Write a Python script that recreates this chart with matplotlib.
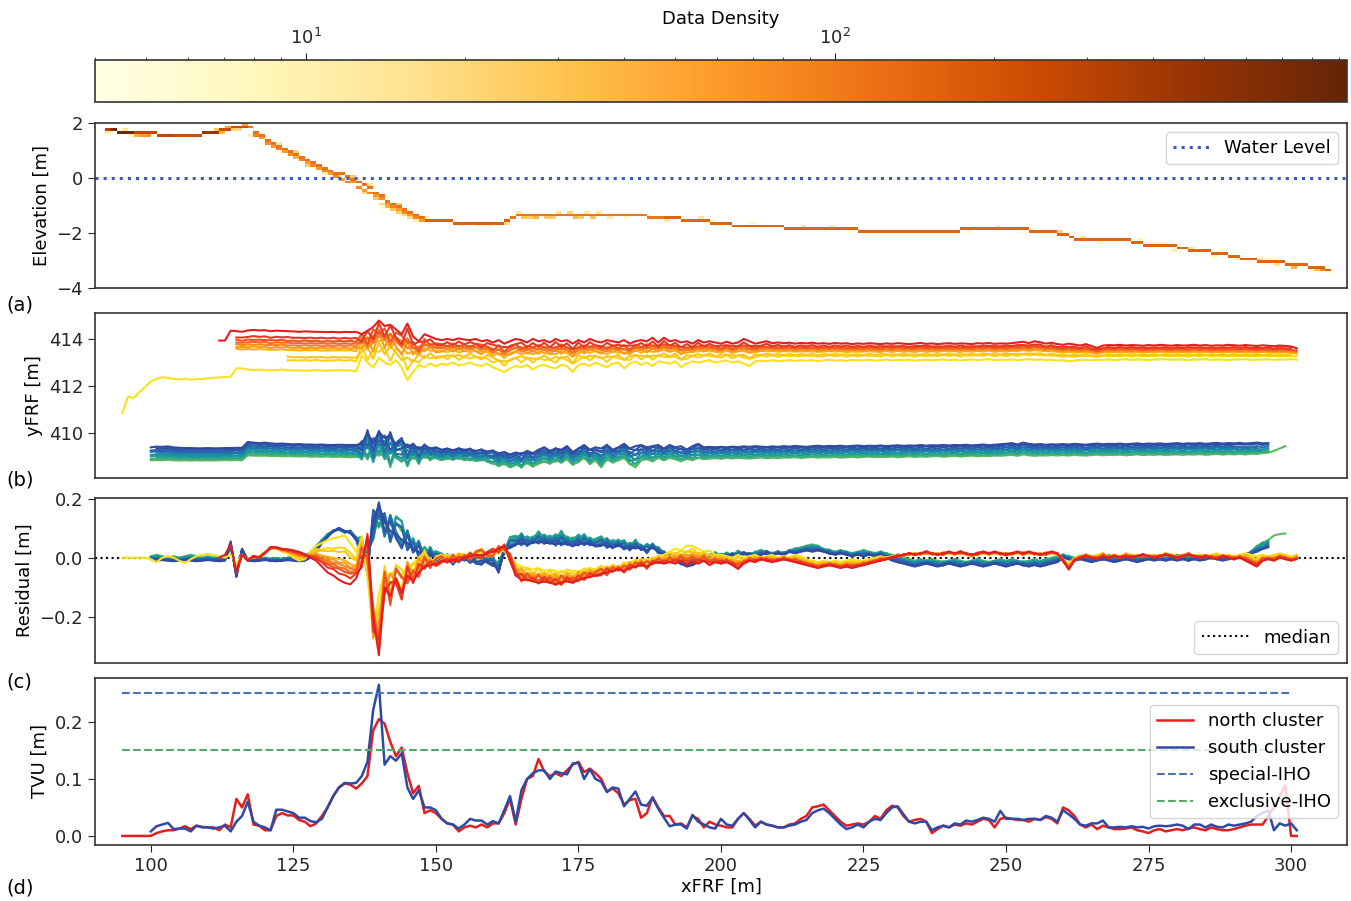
import numpy as np
import matplotlib
matplotlib.use("Agg")
import matplotlib.pyplot as plt
from matplotlib.colors import LogNorm, LinearSegmentedColormap

# ---------------- data ----------------
# (a) elevation profile: main cell elevation per 1-m column, starting at x=92
elev_x0 = 92
elev_z = [
    1.77, 1.70, 1.66, 1.66, 1.66, 1.65, 1.62, 1.60, 1.60, 1.58,
    1.55, 1.53, 1.53, 1.52, 1.52, 1.53, 1.55, 1.60, 1.65, 1.68,
    1.75, 1.78, 1.85, 1.87, 1.88, 1.80, 1.65, 1.50, 1.38, 1.27,
    1.15, 1.05, 0.95, 0.85, 0.75, 0.65, 0.55, 0.45, 0.35, 0.27,
    0.18, 0.10, 0.00, -0.10, -0.20, -0.30, -0.40, -0.55, -0.70, -0.85,
    -1.00, -1.10, -1.20, -1.30, -1.40, -1.48, -1.52, -1.55, -1.57, -1.60,
    -1.60, -1.62, -1.65, -1.65, -1.65, -1.65, -1.65, -1.65, -1.65, -1.65,
    -1.60, -1.50, -1.40, -1.35, -1.32, -1.32, -1.32, -1.32, -1.32, -1.32,
    -1.32, -1.32, -1.32, -1.32, -1.32, -1.32, -1.32, -1.35, -1.35, -1.35,
    -1.35, -1.35, -1.35, -1.38, -1.40, -1.42, -1.42, -1.43, -1.45, -1.47,
    -1.50, -1.52, -1.53, -1.55, -1.57, -1.60, -1.63, -1.65, -1.68, -1.70,
    -1.71, -1.72, -1.73, -1.73, -1.74, -1.75, -1.76, -1.78, -1.80, -1.84,
    -1.84, -1.84, -1.84, -1.84, -1.84, -1.84, -1.84, -1.84, -1.84, -1.84,
    -1.84, -1.88, -1.93, -1.93, -1.93, -1.93, -1.93, -1.93, -1.93, -1.93,
    -1.93, -1.93, -1.93, -1.93, -1.93, -1.93, -1.93, -1.93, -1.93, -1.93,
    -1.88, -1.85, -1.85, -1.85, -1.85, -1.85, -1.85, -1.85, -1.85, -1.88,
    -1.88, -1.88, -1.93, -1.93, -1.93, -1.93, -1.98, -2.04, -2.10, -2.15,
    -2.22, -2.22, -2.22, -2.22, -2.22, -2.22, -2.22, -2.22, -2.22, -2.26,
    -2.32, -2.37, -2.41, -2.44, -2.50, -2.50, -2.50, -2.50, -2.55, -2.58,
    -2.62, -2.65, -2.68, -2.70, -2.72, -2.75, -2.80, -2.85, -2.88, -2.92,
    -2.96, -2.99, -3.02, -3.04, -3.06, -3.08, -3.10, -3.12, -3.15, -3.17,
    -3.19, -3.22, -3.25, -3.28, -3.35,
]
# main-cell density by stretch of columns: (first x, last x, count)
elev_main_counts = [
    (92, 92, 300), (93, 96, 800), (97, 103, 280), (104, 108, 220),
    (109, 111, 450), (112, 116, 230), (117, 147, 120), (148, 162, 160),
    (163, 189, 110), (190, 299, 150), (300, 306, 140),
]
# lighter cells around the main cells: (x, z, count)
elev_extra = [
    (92, 1.65, 12), (93, 1.75, 20), (95, 1.75, 15), (96, 1.55, 8), (97, 1.55, 40),
    (98, 1.55, 60), (99, 1.55, 60), (100, 1.65, 10), (111, 1.75, 30), (112, 1.65, 40),
    (113, 1.85, 50), (114, 1.75, 20), (115, 1.75, 20), (116, 1.95, 60), (117, 1.55, 10),
    (118, 1.55, 90), (119, 1.42, 60), (120, 1.28, 80), (121, 1.17, 60), (122, 1.05, 90),
    (123, 0.95, 60), (124, 0.85, 80), (125, 0.75, 40), (126, 0.65, 90), (127, 0.55, 60),
    (128, 0.45, 80), (129, 0.35, 60), (130, 0.25, 90), (131, 0.17, 60), (132, 0.08, 80),
    (133, -0.02, 60), (134, -0.12, 90), (135, -0.20, 60), (136, -0.32, 80), (137, -0.42, 60),
    (138, -0.52, 90), (139, -0.65, 60), (140, -0.78, 80), (141, -0.95, 60), (142, -1.08, 90),
    (143, -1.18, 60), (144, -1.28, 80), (145, -1.38, 60), (146, -1.48, 90), (147, -1.55, 60),
    (122, 1.25, 12), (125, 0.95, 20), (127, 0.45, 25), (130, 0.15, 10),
    (133, 0.15, 20), (135, 0.05, 25), (136, -0.05, 6), (137, -0.55, 20), (138, -0.25, 15),
    (139, -0.75, 30), (140, -0.95, 20), (140, -1.05, 6), (140, -1.25, 5), (141, -1.05, 40),
    (142, -1.15, 30), (143, -1.25, 25), (143, -0.95, 25), (144, -1.35, 20), (145, -1.45, 20),
    (146, -1.55, 10), (148, -1.45, 8),
    (157, -1.75, 6), (159, -1.75, 8), (162, -1.65, 20), (163, -1.45, 30), (164, -1.25, 15),
    (165, -1.45, 30), (166, -1.45, 25), (167, -1.45, 40), (169, -1.45, 30), (170, -1.45, 25),
    (171, -1.25, 15), (173, -1.25, 20), (174, -1.45, 35), (175, -1.45, 25), (176, -1.25, 12),
    (177, -1.45, 30), (178, -1.25, 15), (180, -1.45, 12), (183, -1.45, 8), (186, -1.35, 10),
    (190, -1.55, 12), (196, -1.45, 15), (198, -1.55, 8), (205, -1.65, 8), (214, -1.75, 15),
    (219, -1.75, 10), (235, -1.95, 6), (243, -1.95, 8), (248, -1.75, 10), (252, -1.95, 6),
    (259, -1.95, 20), (263, -2.15, 15), (266, -2.35, 8), (273, -2.25, 10), (279, -2.65, 10),
    (282, -2.55, 15), (286, -2.85, 8), (290, -2.95, 10), (294, -2.95, 15), (297, -3.15, 15),
    (300, -3.25, 40), (302, -3.15, 80), (304, -3.35, 30), (305, -3.35, 80), (306, -3.45, 5),
]
water_level = 0.0
density_range = (4, 930)

# (b) track positions yFRF, 1-m steps
north_low_x0 = 95   # yellow edge of the north cluster
north_low = [
    410.86, 411.55, 411.50, 411.75, 411.95, 412.20, 412.30, 412.38, 412.35, 412.30,
    412.28, 412.30, 412.27, 412.29, 412.30, 412.33, 412.35, 412.37, 412.38, 412.40,
    412.75, 412.75, 412.70, 412.68, 412.70, 412.68, 412.66, 412.68, 412.70, 412.68,
    412.66, 412.67, 412.65, 412.66, 412.68, 412.66, 412.65, 412.67, 412.68, 412.66,
    412.67, 412.62, 413.30, 413.00, 412.78, 413.20, 413.00, 412.90, 413.10, 412.80,
    412.25, 412.60, 412.90, 412.80, 412.95, 412.85, 412.95, 412.90, 413.00, 412.88,
    412.92, 413.00, 412.90, 412.85, 412.95, 412.80, 412.70, 412.60, 412.75, 412.85,
    412.80, 412.90, 412.70, 412.85, 412.90, 412.80, 412.75, 412.90, 412.85, 412.60,
    412.90, 412.95, 412.85, 413.00, 412.90, 412.80, 412.95, 413.00, 412.75, 412.95,
    413.05, 412.90, 413.00, 412.85, 413.05, 413.00, 412.95, 413.05, 412.80, 412.95,
    413.05, 413.00, 413.05, 413.10, 413.00, 413.05, 413.08, 413.00, 413.05, 412.95,
    412.85, 413.05, 413.08, 413.05, 413.10, 413.06, 413.08, 413.10, 413.07, 413.10,
    413.08, 413.10, 413.06, 413.09, 413.12, 413.08, 413.10, 413.07, 413.11, 413.09,
    413.10, 413.12, 413.08, 413.10, 413.13, 413.09, 413.11, 413.10, 413.12, 413.08,
    413.10, 413.12, 413.09, 413.11, 413.13, 413.10, 413.12, 413.09, 413.11, 413.13,
    413.10, 413.12, 413.14, 413.10, 413.12, 413.11, 413.13, 413.10, 413.12, 413.14,
    413.11, 413.13, 413.10, 413.12, 413.08, 413.10, 413.05, 413.08, 413.11, 413.12,
    413.10, 413.12, 413.11, 413.13, 413.10, 413.12, 413.14, 413.11, 413.13, 413.12,
    413.10, 413.13, 413.12, 413.14, 413.11, 413.13, 413.12, 413.10, 413.13, 413.12,
    413.14, 413.11, 413.13, 413.12, 413.10, 413.13, 413.12, 413.14, 413.11, 413.13,
    413.12, 413.14, 413.11, 413.13, 413.12, 413.14, 413.12,
]
north_high_x0 = 112  # red edge of the north cluster
north_high = [
    413.93, 413.93, 414.35, 414.33, 414.30, 414.36, 414.38, 414.36, 414.37, 414.33,
    414.35, 414.34, 414.33, 414.32, 414.30, 414.32, 414.31, 414.30, 414.30, 414.29,
    414.30, 414.28, 414.30, 414.29, 414.30, 414.20, 414.35, 414.50, 414.78, 414.55,
    414.60, 414.40, 414.20, 414.65, 414.10, 413.90, 414.20, 414.10, 414.00, 413.95,
    414.00, 413.95, 414.02, 413.97, 413.95, 414.00, 413.90, 413.95, 413.85, 413.95,
    413.80, 413.90, 414.00, 413.95, 413.85, 414.00, 413.90, 413.95, 413.85, 414.00,
    413.90, 413.95, 413.80, 413.95, 413.85, 414.00, 413.90, 413.85, 413.95, 413.90,
    413.85, 413.95, 413.80, 413.90, 413.95, 413.90, 414.05, 413.85, 414.05, 413.90,
    413.95, 413.85, 413.90, 413.80, 413.95, 413.85, 413.90, 413.85, 413.80, 413.88,
    413.80, 413.85, 414.00, 413.90, 413.80, 413.85, 413.90, 413.82, 413.85, 413.82,
    413.84, 413.80, 413.83, 413.81, 413.84, 413.80, 413.82, 413.79, 413.83, 413.80,
    413.82, 413.78, 413.81, 413.79, 413.82, 413.80, 413.78, 413.81, 413.79, 413.82,
    413.80, 413.78, 413.80, 413.83, 413.79, 413.81, 413.78, 413.80, 413.82, 413.79,
    413.81, 413.80, 413.78, 413.82, 413.80, 413.83, 413.79, 413.81, 413.80, 413.82,
    413.85, 413.88, 413.82, 413.90, 413.86, 413.80, 413.84, 413.78, 413.75, 413.80,
    413.76, 413.72, 413.78, 413.70, 413.62, 413.72, 413.74, 413.73, 413.75, 413.72,
    413.74, 413.73, 413.71, 413.74, 413.72, 413.75, 413.73, 413.71, 413.74, 413.72,
    413.73, 413.75, 413.72, 413.74, 413.71, 413.73, 413.72, 413.75, 413.73, 413.71,
    413.74, 413.72, 413.70, 413.73, 413.71, 413.69, 413.72, 413.70, 413.68, 413.60,
]
south_low_x0 = 100  # green edge of the south cluster
south_low = [
    408.85, 408.86, 408.85, 408.87, 408.85, 408.84, 408.85, 408.84, 408.85, 408.84,
    408.85, 408.84, 408.85, 408.86, 408.85, 408.86, 408.85, 409.06, 409.05, 409.04,
    409.05, 409.03, 409.04, 409.02, 409.03, 409.02, 409.01, 409.02, 409.00, 409.01,
    409.00, 409.01, 408.99, 409.00, 408.99, 408.98, 408.99, 409.00, 409.10, 408.95,
    409.15, 409.00, 408.80, 409.05, 408.90, 408.78, 408.95, 408.85, 409.00, 408.90,
    408.95, 408.85, 408.92, 408.88, 408.95, 408.85, 408.90, 408.82, 408.88, 408.80,
    408.75, 408.60, 408.70, 408.55, 408.65, 408.60, 408.72, 408.58, 408.70, 408.80,
    408.70, 408.85, 408.75, 408.90, 408.65, 408.80, 408.95, 408.70, 408.85, 408.55,
    408.90, 408.75, 408.85, 408.95, 408.70, 408.55, 408.85, 408.90, 408.80, 408.95,
    408.85, 408.95, 408.90, 408.80, 408.92, 408.85, 408.95, 408.90, 408.92, 408.94,
    408.92, 408.95, 408.93, 408.96, 408.94, 408.92, 408.95, 408.97, 408.94, 408.96,
    408.95, 408.97, 408.96, 408.98, 408.95, 408.97, 408.99, 408.96, 408.98, 408.97,
    408.99, 408.96, 408.98, 409.00, 408.97, 408.99, 409.01, 408.98, 409.00, 408.99,
    409.01, 408.98, 409.00, 409.02, 408.99, 409.01, 409.00, 409.02, 409.03, 409.00,
    409.02, 409.04, 409.01, 409.03, 409.05, 409.02, 409.04, 409.03, 409.05, 409.04,
    409.06, 409.08, 409.04, 409.10, 409.06, 409.04, 409.06, 409.05, 409.07, 409.05,
    409.07, 409.05, 409.08, 409.06, 409.05, 409.07, 409.09, 409.06, 409.08, 409.07,
    409.09, 409.06, 409.08, 409.10, 409.07, 409.09, 409.08, 409.10, 409.07, 409.09,
    409.10, 409.08, 409.10, 409.09, 409.11, 409.08, 409.10, 409.12, 409.09, 409.11,
    409.10, 409.12, 409.10, 409.13, 409.12, 409.15, 409.18, 409.25, 409.35, 409.45,
]
south_high_x0 = 100  # blue edge of the south cluster
south_high = [
    409.40, 409.43, 409.42, 409.44, 409.40, 409.38, 409.37, 409.37, 409.36, 409.36,
    409.37, 409.36, 409.36, 409.37, 409.37, 409.38, 409.38, 409.63, 409.60, 409.58,
    409.60, 409.57, 409.55, 409.56, 409.54, 409.53, 409.54, 409.52, 409.52, 409.51,
    409.52, 409.50, 409.50, 409.51, 409.50, 409.50, 409.50, 409.55, 410.00, 409.60,
    410.05, 409.80, 409.90, 409.50, 409.70, 409.40, 409.55, 409.30, 409.50, 409.35,
    409.40, 409.30, 409.35, 409.28, 409.35, 409.30, 409.32, 409.25, 409.30, 409.22,
    409.25, 409.15, 409.20, 409.10, 409.18, 409.12, 409.25, 409.15, 409.30, 409.40,
    409.25, 409.35, 409.30, 409.45, 409.20, 409.35, 409.50, 409.30, 409.40, 409.35,
    409.50, 409.30, 409.40, 409.55, 409.35, 409.45, 409.50, 409.40, 409.45, 409.50,
    409.35, 409.50, 409.40, 409.45, 409.30, 409.45, 409.55, 409.40, 409.42, 409.40,
    409.42, 409.40, 409.43, 409.41, 409.44, 409.42, 409.45, 409.43, 409.41, 409.44,
    409.42, 409.45, 409.43, 409.46, 409.44, 409.42, 409.45, 409.47, 409.44, 409.46,
    409.45, 409.47, 409.44, 409.46, 409.48, 409.45, 409.47, 409.46, 409.48, 409.45,
    409.47, 409.49, 409.46, 409.48, 409.47, 409.50, 409.47, 409.49, 409.48, 409.50,
    409.48, 409.50, 409.49, 409.51, 409.48, 409.50, 409.52, 409.49, 409.51, 409.53,
    409.55, 409.58, 409.52, 409.60, 409.55, 409.52, 409.54, 409.51, 409.53, 409.52,
    409.54, 409.52, 409.55, 409.53, 409.51, 409.54, 409.56, 409.53, 409.55, 409.54,
    409.56, 409.53, 409.55, 409.57, 409.54, 409.56, 409.55, 409.57, 409.54, 409.56,
    409.58, 409.55, 409.57, 409.56, 409.58, 409.55, 409.57, 409.59, 409.56, 409.58,
    409.57, 409.59, 409.56, 409.58, 409.60, 409.57, 409.58,
]
# per-track jitter along xFRF (starts at x=95)
track_jitter_x0 = 95
track_jitter = [
    0, 0, 0, 0, 0, 0, 0, 0, 0, 0,
    0, 0, 0, 0, 0, 0, 0, 0, 0, 0,
    0.02, -0.01, 0.015, -0.02, 0.01, -0.015, 0.02, -0.01, 0.015, -0.02,
    0.01, -0.015, 0.02, -0.01, 0.015, -0.02, 0.01, -0.015, 0.02, -0.01,
    0.02, -0.02, 0.25, -0.30, 0.35, -0.20, 0.30, -0.35, 0.20, 0.30,
    -0.25, 0.15, -0.20, 0.15, -0.10, 0.10, 0.08, -0.06, 0.10, -0.08,
    0.05, -0.10, 0.07, 0.12, -0.05, -0.10, 0.09, -0.07, 0.10, 0.06,
    -0.12, 0.08, -0.05, 0.10, -0.08, 0.06, -0.10, 0.12, -0.06, 0.05,
    -0.09, 0.10, -0.07, 0.05, 0.08, -0.10, 0.06, -0.05, 0.09, -0.08,
    0.07, -0.06, 0.10, -0.05, 0.06, -0.04, 0.05, -0.04, 0.06, -0.05,
    0.04, -0.05, 0.06, -0.03, 0.04, -0.05, 0.03, -0.04, 0.05, -0.03,
    0.04, -0.03, 0.03, -0.04, 0.02, -0.03, 0.03, -0.02, 0.03, -0.02,
    0.02, -0.03, 0.02, -0.02, 0.03, -0.02, 0.02, -0.03, 0.02, -0.02,
    0.03, -0.02, 0.02, -0.03, 0.02, -0.02, 0.03, -0.02, 0.02, -0.02,
    0.02, -0.03, 0.02, -0.02, 0.03, -0.02, 0.02, -0.03, 0.02, -0.02,
    0.03, -0.02, 0.02, -0.02, 0.02, -0.03, 0.02, -0.02, 0.03, -0.02,
    0.02, -0.02, 0.03, -0.02, 0.02, -0.03, 0.02, -0.02, 0.02, -0.03,
    0.02, -0.02, 0.03, -0.02, 0.02, -0.02, 0.02, -0.03, 0.02, -0.02,
    0.02, -0.02, 0.03, -0.02, 0.02, -0.02, 0.02, -0.03, 0.02, -0.02,
    0.03, -0.02, 0.02, -0.02, 0.02, -0.03, 0.02, -0.02, 0.02, -0.02,
    0.03, -0.02, 0.02, -0.02, 0.02, -0.02, 0.02,
]
# individual tracks: position between cluster edges, first/last x, jitter weight
north_frac = [0.0, 0.26, 0.34, 0.52, 0.58, 0.64, 0.70, 0.76, 0.84, 1.0]
north_start = [95, 124, 124, 115, 115, 115, 115, 115, 115, 112]
north_end = [301, 301, 300, 301, 300, 301, 300, 301, 300, 301]
north_jit = [0.0, 0.8, -0.6, 0.5, -0.9, 0.7, -0.4, 0.9, -0.7, 0.0]
south_frac = [0.0, 0.1, 0.2, 0.3, 0.42, 0.55, 0.65, 0.75, 0.88, 1.0]
south_start = [100, 100, 101, 100, 100, 101, 100, 100, 101, 100]
south_end = [299, 296, 296, 295, 296, 294, 296, 290, 296, 296]
south_jit = [0.0, 1.0, -0.9, 1.2, -1.0, 0.8, -1.1, 1.0, -0.8, 0.0]

# (c) residuals from median
north_res_yellow_x0 = 95
north_res_yellow = [
    0.000, 0.000, 0.000, 0.000, 0.000, -0.005, -0.015, 0.000, 0.005, 0.000,
    -0.010, -0.018, -0.005, 0.005, 0.010, 0.012, 0.010, 0.005, 0.000, 0.010,
    -0.020, 0.010, -0.005, 0.000, 0.005, 0.020, 0.030, 0.030, 0.020, 0.015,
    0.000, -0.010, -0.005, 0.020, 0.040, 0.050, 0.060, 0.065, 0.070, 0.075,
    0.050, 0.020, 0.065, -0.060, -0.260, -0.120, -0.050, -0.060, -0.040, -0.060,
    -0.030, -0.020, 0.000, 0.020, -0.010, -0.005, 0.005, 0.010, 0.000, 0.015,
    0.010, 0.005, 0.015, 0.020, 0.010, 0.015, 0.020, 0.025, 0.000, -0.020,
    -0.030, -0.035, -0.040, -0.035, -0.045, -0.040, -0.045, -0.050, -0.040, -0.045,
    -0.045, -0.040, -0.035, -0.040, -0.030, -0.035, -0.025, -0.030, -0.020, -0.015,
    -0.010, -0.005, -0.010, 0.000, 0.005, 0.010, 0.020, 0.030, 0.025, 0.040,
    0.040, 0.030, 0.020, 0.025, 0.010, 0.010, 0.005, 0.000, 0.010, 0.000,
    0.005, 0.010, 0.000, 0.005, 0.010, 0.000, 0.005, 0.000, 0.010, 0.005,
    -0.005, -0.010, -0.015, -0.010, -0.015, -0.010, -0.015, -0.010, -0.005, -0.010,
    -0.010, -0.005, 0.000, 0.005, 0.000, 0.005, 0.010, 0.005, 0.010, 0.015,
    0.010, 0.015, 0.010, 0.015, 0.010, 0.015, 0.010, 0.015, 0.010, 0.005,
    0.010, 0.015, 0.010, 0.015, 0.010, 0.015, 0.010, 0.015, 0.010, 0.015,
    0.010, 0.015, 0.010, 0.015, 0.010, -0.005, -0.020, 0.000, 0.005, 0.010,
    0.005, 0.010, 0.015, 0.005, 0.010, 0.005, 0.015, 0.010, 0.005, 0.010,
    0.005, 0.010, 0.005, 0.015, 0.010, 0.005, 0.010, 0.015, 0.005, 0.010,
    0.005, 0.010, 0.015, 0.005, 0.010, 0.005, 0.010, 0.015, 0.010, 0.005,
    0.010, 0.005, 0.010, 0.015, 0.010, 0.005, 0.010,
]
north_res_red_x0 = 112
north_res_red = [
    0.000, 0.010, 0.045, -0.050, 0.010, -0.010, 0.005, 0.000, 0.015, 0.035,
    0.035, 0.030, 0.028, 0.025, 0.020, 0.012, 0.000, -0.010, -0.030, -0.050,
    -0.060, -0.075, -0.085, -0.090, -0.070, -0.020, 0.070, -0.200, -0.330, -0.100,
    -0.130, -0.070, -0.120, -0.060, -0.080, -0.050, -0.030, -0.025, -0.020, -0.010,
    -0.015, -0.005, -0.010, 0.000, 0.005, 0.010, 0.008, 0.015, 0.020, 0.030,
    0.040, 0.000, -0.060, -0.075, -0.075, -0.080, -0.085, -0.080, -0.085, -0.090,
    -0.085, -0.080, -0.085, -0.075, -0.070, -0.065, -0.060, -0.055, -0.050, -0.045,
    -0.040, -0.045, -0.035, -0.030, -0.025, -0.030, -0.020, -0.015, -0.020, -0.015,
    -0.020, -0.010, -0.025, -0.015, -0.020, -0.010, -0.025, -0.015, -0.020, -0.015,
    -0.025, -0.038, -0.020, -0.010, -0.015, -0.005, -0.010, -0.015, -0.010, -0.005,
    -0.010, -0.015, -0.020, -0.025, -0.030, -0.035, -0.030, -0.025, -0.030, -0.035,
    -0.030, -0.035, -0.030, -0.025, -0.020, -0.015, -0.010, -0.005, 0.000, 0.005,
    0.010, 0.015, 0.010, 0.015, 0.020, 0.015, 0.010, 0.015, 0.020, 0.015,
    0.020, 0.015, 0.010, 0.015, 0.020, 0.015, 0.020, 0.015, 0.010, 0.015,
    0.020, 0.015, 0.020, 0.015, 0.010, 0.015, 0.020, 0.015, -0.010, -0.040,
    -0.010, 0.000, 0.005, 0.000, -0.005, 0.005, 0.000, 0.005, 0.000, 0.005,
    0.000, 0.005, 0.010, 0.005, 0.000, 0.005, 0.010, 0.005, 0.000, 0.005,
    0.010, 0.005, 0.000, 0.005, 0.000, -0.005, 0.005, 0.000, -0.005, 0.000,
    -0.010, -0.020, -0.030, -0.010, -0.005, -0.010, 0.000, -0.005, -0.010, -0.005,
]
south_res_green_x0 = 100
south_res_green = [
    0.005, 0.010, 0.005, 0.000, 0.005, 0.000, 0.005, 0.010, 0.005, 0.000,
    0.005, 0.000, 0.005, 0.000, 0.030, -0.040, 0.020, -0.005, 0.000, -0.005,
    0.000, -0.005, 0.000, -0.005, 0.000, 0.005, 0.000, 0.005, 0.020, 0.040,
    0.060, 0.080, 0.090, 0.095, 0.085, 0.090, 0.070, 0.040, 0.000, 0.090,
    0.120, 0.100, 0.110, 0.120, 0.090, 0.070, 0.050, 0.040, 0.020, 0.030,
    0.010, 0.005, 0.010, 0.000, 0.005, 0.000, 0.005, 0.000, -0.005, 0.000,
    -0.005, -0.020, 0.030, 0.060, 0.070, 0.075, 0.065, 0.070, 0.080, 0.075,
    0.070, 0.075, 0.080, 0.070, 0.065, 0.075, 0.070, 0.065, 0.060, 0.065,
    0.060, 0.055, 0.060, 0.050, 0.045, 0.055, 0.040, 0.035, 0.045, 0.030,
    0.020, 0.010, 0.000, 0.005, 0.010, 0.005, 0.010, 0.005, 0.010, 0.015,
    0.010, 0.015, 0.010, 0.020, 0.015, 0.010, 0.020, 0.025, 0.020, 0.015,
    0.020, 0.015, 0.025, 0.030, 0.035, 0.040, 0.045, 0.040, 0.030, 0.025,
    0.020, 0.025, 0.020, 0.015, 0.020, 0.025, 0.020, 0.015, 0.020, 0.015,
    0.010, 0.005, 0.000, -0.005, -0.010, -0.005, -0.010, -0.005, -0.010, -0.015,
    -0.010, -0.005, -0.010, -0.015, -0.010, -0.005, -0.010, -0.015, -0.010, -0.005,
    -0.010, -0.005, -0.010, -0.015, -0.010, -0.005, -0.010, -0.005, 0.000, 0.005,
    0.010, 0.005, 0.000, 0.005, 0.010, 0.005, 0.000, 0.005, 0.010, 0.005,
    0.000, 0.005, 0.010, 0.005, 0.000, 0.005, 0.010, 0.005, 0.000, 0.005,
    0.010, 0.005, 0.000, 0.005, 0.010, 0.005, 0.000, 0.005, 0.010, 0.005,
    0.000, 0.005, 0.010, 0.020, 0.040, 0.050, 0.060, 0.075, 0.080, 0.082,
]
south_res_blue_x0 = 100
south_res_blue = [
    -0.005, -0.010, -0.008, -0.010, -0.012, -0.010, -0.008, -0.010, -0.012, -0.010,
    -0.008, -0.010, -0.012, -0.010, 0.055, -0.065, 0.030, -0.010, -0.012, -0.010,
    -0.008, -0.010, -0.012, -0.010, -0.008, -0.010, -0.012, -0.010, 0.000, 0.020,
    0.050, 0.070, 0.090, 0.100, 0.090, 0.085, 0.060, 0.020, -0.030, 0.130,
    0.175, 0.120, 0.090, 0.080, 0.060, 0.050, 0.030, 0.020, 0.000, 0.010,
    0.000, -0.005, -0.010, -0.015, -0.010, -0.005, -0.010, -0.015, -0.010, -0.015,
    -0.020, -0.045, 0.020, 0.040, 0.045, 0.050, 0.045, 0.050, 0.055, 0.050,
    0.050, 0.045, 0.050, 0.045, 0.040, 0.045, 0.050, 0.045, 0.040, 0.045,
    0.040, 0.035, 0.040, 0.035, 0.030, 0.035, 0.030, 0.025, 0.035, 0.020,
    0.010, 0.000, -0.010, -0.020, -0.030, -0.025, -0.015, -0.005, 0.000, 0.005,
    0.000, 0.005, 0.010, 0.005, 0.015, 0.010, 0.005, 0.010, 0.015, 0.010,
    0.015, 0.010, 0.020, 0.015, 0.020, 0.025, 0.020, 0.025, 0.020, 0.015,
    0.010, 0.015, 0.010, 0.005, 0.010, 0.005, 0.010, 0.005, 0.010, 0.000,
    -0.010, -0.015, -0.020, -0.025, -0.030, -0.025, -0.020, -0.025, -0.030, -0.025,
    -0.020, -0.025, -0.030, -0.025, -0.020, -0.025, -0.030, -0.025, -0.020, -0.025,
    -0.030, -0.025, -0.020, -0.025, -0.030, -0.025, -0.030, -0.025, -0.020, -0.015,
    0.000, -0.005, -0.010, -0.005, -0.010, -0.015, -0.010, -0.005, -0.010, -0.015,
    -0.010, -0.005, -0.010, -0.015, -0.010, -0.005, -0.010, -0.005, -0.010, -0.005,
    -0.010, -0.005, -0.010, -0.005, -0.010, -0.005, 0.000, -0.005, -0.010, -0.005,
    0.000, 0.005, 0.010, 0.015, 0.020, 0.030, 0.035,
]
median_level = 0.0

# (d) total vertical uncertainty
north_tvu_x0 = 95
north_tvu = [
    0.000, 0.000, 0.000, 0.000, 0.000, 0.000, 0.005, 0.008, 0.010, 0.010,
    0.013, 0.017, 0.012, 0.018, 0.016, 0.015, 0.015, 0.010, 0.020, 0.015,
    0.065, 0.050, 0.073, 0.020, 0.018, 0.010, 0.010, 0.035, 0.040, 0.036,
    0.036, 0.028, 0.025, 0.017, 0.022, 0.035, 0.050, 0.070, 0.085, 0.092,
    0.090, 0.083, 0.092, 0.105, 0.185, 0.205, 0.197, 0.165, 0.140, 0.155,
    0.110, 0.075, 0.088, 0.040, 0.045, 0.040, 0.030, 0.022, 0.020, 0.008,
    0.015, 0.018, 0.015, 0.020, 0.015, 0.022, 0.022, 0.040, 0.065, 0.020,
    0.065, 0.100, 0.105, 0.135, 0.113, 0.105, 0.110, 0.105, 0.115, 0.125,
    0.130, 0.112, 0.118, 0.110, 0.100, 0.078, 0.083, 0.075, 0.055, 0.063,
    0.065, 0.032, 0.040, 0.068, 0.050, 0.035, 0.035, 0.020, 0.022, 0.015,
    0.035, 0.030, 0.015, 0.025, 0.020, 0.018, 0.015, 0.015, 0.030, 0.040,
    0.030, 0.018, 0.025, 0.020, 0.018, 0.015, 0.015, 0.020, 0.022, 0.030,
    0.035, 0.050, 0.052, 0.055, 0.045, 0.035, 0.025, 0.018, 0.020, 0.022,
    0.020, 0.025, 0.035, 0.030, 0.045, 0.053, 0.050, 0.035, 0.025, 0.028,
    0.030, 0.025, 0.005, 0.012, 0.018, 0.015, 0.020, 0.018, 0.022, 0.020,
    0.025, 0.030, 0.028, 0.015, 0.030, 0.032, 0.030, 0.028, 0.028, 0.025,
    0.030, 0.028, 0.033, 0.030, 0.022, 0.050, 0.045, 0.035, 0.020, 0.015,
    0.020, 0.012, 0.018, 0.015, 0.012, 0.012, 0.013, 0.015, 0.010, 0.008,
    0.005, 0.010, 0.012, 0.008, 0.010, 0.012, 0.010, 0.013, 0.015, 0.012,
    0.010, 0.015, 0.012, 0.010, 0.010, 0.012, 0.015, 0.018, 0.020, 0.020,
    0.020, 0.035, 0.050, 0.070, 0.089, 0.000, 0.000,
]
south_tvu_x0 = 100
south_tvu = [
    0.008, 0.017, 0.020, 0.023, 0.012, 0.013, 0.013, 0.008, 0.018, 0.015,
    0.015, 0.013, 0.015, 0.018, 0.008, 0.025, 0.035, 0.060, 0.025, 0.018,
    0.015, 0.010, 0.046, 0.046, 0.043, 0.040, 0.032, 0.032, 0.026, 0.024,
    0.030, 0.050, 0.070, 0.085, 0.093, 0.092, 0.093, 0.105, 0.130, 0.221,
    0.265, 0.125, 0.140, 0.132, 0.145, 0.085, 0.065, 0.080, 0.050, 0.050,
    0.045, 0.030, 0.022, 0.020, 0.013, 0.020, 0.030, 0.027, 0.027, 0.020,
    0.026, 0.022, 0.045, 0.070, 0.025, 0.080, 0.100, 0.110, 0.115, 0.115,
    0.100, 0.113, 0.110, 0.108, 0.127, 0.128, 0.100, 0.117, 0.100, 0.095,
    0.077, 0.085, 0.083, 0.052, 0.065, 0.078, 0.055, 0.053, 0.067, 0.048,
    0.032, 0.017, 0.020, 0.020, 0.013, 0.037, 0.025, 0.020, 0.015, 0.013,
    0.030, 0.020, 0.018, 0.030, 0.040, 0.028, 0.015, 0.025, 0.020, 0.018,
    0.015, 0.015, 0.018, 0.020, 0.025, 0.028, 0.040, 0.045, 0.048, 0.040,
    0.030, 0.020, 0.012, 0.015, 0.020, 0.015, 0.025, 0.030, 0.028, 0.040,
    0.050, 0.052, 0.038, 0.025, 0.022, 0.025, 0.025, 0.010, 0.015, 0.018,
    0.015, 0.022, 0.020, 0.027, 0.025, 0.028, 0.032, 0.030, 0.025, 0.044,
    0.030, 0.030, 0.030, 0.028, 0.030, 0.030, 0.028, 0.035, 0.032, 0.025,
    0.045, 0.038, 0.030, 0.020, 0.018, 0.022, 0.022, 0.027, 0.015, 0.015,
    0.016, 0.015, 0.017, 0.015, 0.016, 0.013, 0.017, 0.018, 0.017, 0.018,
    0.020, 0.018, 0.012, 0.020, 0.020, 0.015, 0.020, 0.016, 0.015, 0.020,
    0.018, 0.020, 0.022, 0.025, 0.035, 0.040, 0.045, 0.010, 0.022, 0.018,
    0.022, 0.010,
]
iho_special = 0.25
iho_exclusive = 0.15
iho_x_range = [95, 300]

# ---------------- styling ----------------
plt.rcParams.update({
    "font.family": ["DejaVu Sans"],
    "font.size": 13,
    "axes.edgecolor": "#333333",
    "axes.linewidth": 1.2,
    "xtick.color": "#262626",
    "ytick.color": "#262626",
    "xtick.labelsize": 13,
    "ytick.labelsize": 13,
    "axes.labelsize": 13,
    "legend.fontsize": 13,
    "xtick.major.size": 5,
    "ytick.major.size": 5,
})

grid_x0, grid_n = 95, 207
grid_x = np.arange(grid_x0, grid_x0 + grid_n)


def on_grid(x0, vals):
    arr = np.full(grid_n, np.nan)
    s = x0 - grid_x0
    v = np.asarray(vals, dtype=float)[: grid_n - s]
    arr[s:s + len(v)] = v
    return arr


def track(low, high, frac, jit, jscale, start, end, jitter):
    if frac == 0.0:
        y = low.copy()
    elif frac == 1.0:
        y = high.copy()
    else:
        y = low + frac * (high - low)
    y = y + jit * jscale * jitter
    m = (grid_x >= start) & (grid_x <= end)
    return grid_x[m], y[m]


north_cmap = LinearSegmentedColormap.from_list(
    "north", ["#f9e21b", "#fdc010", "#f8921f", "#ef5a22", "#e41e1f"])
south_cmap = LinearSegmentedColormap.from_list(
    "south", ["#5cbb5c", "#26a394", "#168aa8", "#2b64ad", "#2f4aa3"])
north_color = "#e41e1f"
south_color = "#2f4aa3"

fig = plt.figure(figsize=(13.51, 9.01), dpi=100)
L, W = 0.0703, 0.9267
cax = fig.add_axes([L, 0.8868, W, 0.0466])
axa = fig.add_axes([L, 0.6804, W, 0.1831])
axb = fig.add_axes([L, 0.4695, W, 0.1831])
axc = fig.add_axes([L, 0.2642, W, 0.1831])
axd = fig.add_axes([L, 0.0622, W, 0.1853])
xlim = (90.2, 309.8)

# ---- (a) density heat map ----
z_edges = np.round(np.arange(-4.0, 2.0001, 0.1), 2)
ncol = len(elev_z)
x_edges = elev_x0 + np.arange(ncol + 1)
H = np.zeros((len(z_edges) - 1, ncol))


def zbin(z):
    return int(np.floor((z + 4.0) / 0.1 + 1e-6))


main_cnt = np.zeros(ncol)
for x1, x2, c in elev_main_counts:
    main_cnt[x1 - elev_x0:x2 - elev_x0 + 1] = c
for i, z in enumerate(elev_z):
    H[zbin(z), i] = main_cnt[i]
for x, z, c in elev_extra:
    i = x - elev_x0
    if 0 <= i < ncol and H[zbin(z), i] == 0:
        H[zbin(z), i] = c
Hm = np.ma.masked_where(H <= 0, H)
norm = LogNorm(vmin=density_range[0], vmax=density_range[1])
mesh = axa.pcolormesh(x_edges, z_edges, Hm, cmap="YlOrBr", norm=norm)
axa.axhline(water_level, color="#3b5bb5", ls=":", lw=2.2, label="Water Level")
axa.set_xlim(*xlim)
axa.set_ylim(-4, 2)
axa.set_yticks([-4, -2, 0, 2])
axa.set_ylabel("Elevation [m]")
axa.tick_params(axis="x", bottom=False, labelbottom=False)
axa.legend(loc="upper right")

cb = fig.colorbar(mesh, cax=cax, orientation="horizontal")
cax.xaxis.set_ticks_position("top")
cax.xaxis.set_label_position("top")
cb.set_label("Data Density", labelpad=3)
cb.outline.set_edgecolor("#333333")

# ---- (b) tracks ----
nl = on_grid(north_low_x0, north_low)
nh = on_grid(north_high_x0, north_high)
sl = on_grid(south_low_x0, south_low)
sh = on_grid(south_high_x0, south_high)
jit = np.nan_to_num(on_grid(track_jitter_x0, track_jitter))

ns, nn = len(south_frac), len(north_frac)
for i in range(ns):
    x, y = track(sl, sh, south_frac[i], south_jit[i], 1.0, south_start[i], south_end[i], jit)
    axb.plot(x, y, color=south_cmap(i / (ns - 1)), lw=1.5)
for i in range(nn):
    x, y = track(nl, nh, north_frac[i], north_jit[i], 1.0, north_start[i], north_end[i], jit)
    axb.plot(x, y, color=north_cmap(i / (nn - 1)), lw=1.5)
axb.set_xlim(*xlim)
axb.set_ylim(408.1, 415.1)
axb.set_yticks([410, 412, 414])
axb.set_ylabel("yFRF [m]")
axb.tick_params(axis="x", bottom=False, labelbottom=False)

# ---- (c) residuals ----
nry = on_grid(north_res_yellow_x0, north_res_yellow)
nrr = on_grid(north_res_red_x0, north_res_red)
srg = on_grid(south_res_green_x0, south_res_green)
srb = on_grid(south_res_blue_x0, south_res_blue)
axc.axhline(median_level, color="black", ls=":", lw=1.5, label="median", zorder=1)
for i in range(ns):
    x, y = track(srg, srb, south_frac[i], south_jit[i], 0.12, south_start[i], south_end[i], jit)
    axc.plot(x, y, color=south_cmap(i / (ns - 1)), lw=1.5)
for i in range(nn):
    x, y = track(nry, nrr, north_frac[i], north_jit[i], 0.15, north_start[i], north_end[i], jit)
    axc.plot(x, y, color=north_cmap(i / (nn - 1)), lw=1.5)
axc.set_xlim(*xlim)
axc.set_ylim(-0.356, 0.202)
axc.set_yticks([-0.2, 0.0, 0.2])
axc.set_ylabel("Residual [m]")
axc.tick_params(axis="x", bottom=False, labelbottom=False)
axc.legend(loc="lower right", handlelength=2.6)

# ---- (d) TVU ----
xn = north_tvu_x0 + np.arange(len(north_tvu))
xs = south_tvu_x0 + np.arange(len(south_tvu))
axd.plot(xn, north_tvu, color=north_color, lw=1.8, label="north cluster")
axd.plot(xs, south_tvu, color=south_color, lw=1.8, label="south cluster")
axd.hlines(iho_special, iho_x_range[0], iho_x_range[1], colors="#4c72b0",
           linestyles="--", lw=1.5, label="special-IHO")
axd.hlines(iho_exclusive, iho_x_range[0], iho_x_range[1], colors="#55a868",
           linestyles="--", lw=1.5, label="exclusive-IHO")
axd.set_xlim(*xlim)
axd.set_ylim(-0.0158, 0.277)
axd.set_yticks([0.0, 0.1, 0.2])
axd.set_xticks([100, 125, 150, 175, 200, 225, 250, 275, 300])
axd.set_xlabel("xFRF [m]", labelpad=2)
axd.set_ylabel("TVU [m]")
axd.legend(loc="center right")

# panel letters
for lab, yy in [("(a)", 305), ("(b)", 480), ("(c)", 682), ("(d)", 888)]:
    fig.text(0.005, 1 - yy / 901, lab, fontsize=14, ha="left", va="center")

fig.savefig("out.png", dpi=100)
